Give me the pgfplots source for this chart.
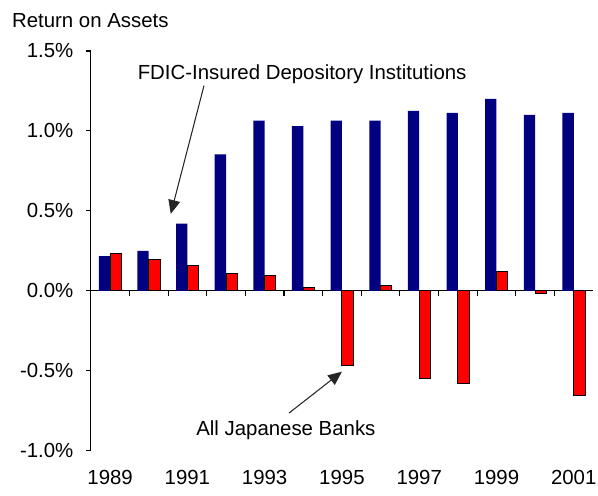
\documentclass[border=0pt]{standalone}
\usepackage{fontspec}
\setmainfont{Liberation Sans}
\usepackage{pgfplots}
\pgfplotsset{compat=1.18}
\usepackage{pgfplotstable}
\usetikzlibrary{arrows.meta}

\definecolor{fdicblue}{RGB}{0,0,128}
\definecolor{japred}{RGB}{255,0,0}

% return on assets, percent; x = 0 is 1989
\pgfplotstableread{
x  fdic   japan
0  0.216  0.234
1  0.250  0.197
2  0.420  0.160
3  0.853  0.110
4  1.065  0.098
5  1.030  0.023
6  1.065 -0.468
7  1.065  0.035
8  1.125 -0.548
9  1.113 -0.583
10 1.200  0.123
11 1.100 -0.015
12 1.113 -0.657
}\roa

\begin{document}
\begin{tikzpicture}[font=\fontsize{15.5}{18}\selectfont]
\begin{axis}[
  scale only axis, width=381.75pt, height=303.75pt,
  xmin=-0.5, xmax=12.5, ymin=-1.0, ymax=1.5,
  axis x line*=middle, axis y line*=left,
  ybar=0pt, bar width=8.6pt,
  xtick={0.5,1.5,...,11.5},
  xticklabels={},
  extra x ticks={0,2,...,12},
  extra x tick labels={1989,1991,1993,1995,1997,1999,2001},
  extra x tick style={major tick length=0pt,
    xticklabel style={yshift=-133pt}},
  ytick={-1,-0.5,0,0.5,1,1.5},
  yticklabels={-1.0\%,-0.5\%,0.0\%,0.5\%,1.0\%,1.5\%},
  tick align=outside, major tick length=3.75pt,
  hide obscured y ticks=false,
  axis line style={black, line width=0.8pt},
  tick style={black, line width=0.8pt},
  tick label style={font=\fontsize{15.5}{18}\selectfont},
  yticklabel style={xshift=-6pt},
  clip=false,
]
\addplot[fill=fdicblue, draw=none] table[x=x, y=fdic] {\roa};
\addplot[fill=japred, draw=black, line width=0.75pt] table[x=x, y=japan] {\roa};

\coordinate (bl) at (rel axis cs:0,0);
\node[anchor=base west, inner sep=0, xshift=-60pt, yshift=18pt]
  at (rel axis cs:0,1) {Return on Assets};

\node[anchor=base, inner sep=0] at (axis cs:4.97,1.324)
  {FDIC-Insured Depository Institutions};
\draw[-{Triangle[length=10.5pt,width=9pt]}, line width=0.8pt, black!85]
  (axis cs:2.43,1.283) -- (axis cs:1.57,0.481);

\node[anchor=base, inner sep=0] at (axis cs:4.55,-0.903)
  {All Japanese Banks};
\draw[-{Triangle[length=10.5pt,width=9pt]}, line width=0.8pt, black!85]
  (axis cs:4.63,-0.765) -- (axis cs:6.0,-0.506);
\end{axis}
\pgfresetboundingbox
\path[use as bounding box] (bl) ++(-69pt,-34pt) rectangle ++(454.5pt,376.5pt);
\end{tikzpicture}
\end{document}
